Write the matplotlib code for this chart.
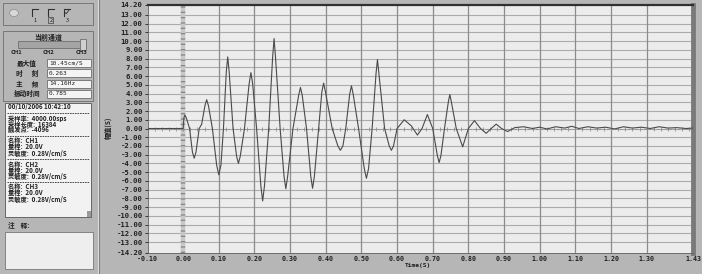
import numpy as np
import matplotlib
matplotlib.use("Agg")
import matplotlib.pyplot as plt
from matplotlib.patches import Rectangle, Ellipse

plt.rcParams["font.family"] = ["Noto Sans CJK SC", "DejaVu Sans"]

# waveform: time (s), amplitude
t_vals = [-0.10, 0.000, 0.002, 0.005, 0.009, 0.018, 0.026, 0.031, 0.036, 0.045,
          0.052, 0.061, 0.066, 0.071, 0.082, 0.094, 0.100, 0.106, 0.113, 0.121,
          0.125, 0.129, 0.140, 0.150, 0.155, 0.160, 0.172, 0.185, 0.190, 0.195,
          0.206, 0.218, 0.223, 0.228, 0.240, 0.251, 0.255, 0.259, 0.272, 0.283,
          0.288, 0.293, 0.308, 0.324, 0.329, 0.334, 0.346, 0.358, 0.363, 0.368,
          0.380, 0.389, 0.394, 0.399, 0.418, 0.434, 0.441, 0.448, 0.456, 0.467,
          0.472, 0.477, 0.492, 0.508, 0.514, 0.520, 0.530, 0.541, 0.545, 0.549,
          0.565, 0.578, 0.584, 0.590, 0.600, 0.620, 0.640, 0.657, 0.670, 0.685,
          0.700, 0.713, 0.718, 0.723, 0.733, 0.744, 0.748, 0.752, 0.766, 0.784,
          0.800, 0.817, 0.834, 0.850, 0.864, 0.878, 0.893, 0.910, 0.930, 0.955,
          0.980, 1.000, 1.020, 1.045, 1.070, 1.090, 1.110, 1.135, 1.160, 1.185,
          1.210, 1.235, 1.260, 1.285, 1.310, 1.335, 1.360, 1.385, 1.410, 1.430]
v_vals = [0.0, 0.0, 1.2, 1.55, 1.2, 0.0, -2.7, -3.4, -2.7, 0.0,
          0.5, 2.6, 3.3, 2.6, 0.0, -4.2, -5.3, -4.2, 0.0, 6.5,
          8.2, 6.5, 0.0, -3.2, -4.0, -3.2, 0.0, 5.1, 6.4, 5.1,
          0.0, -6.6, -8.3, -6.6, 0.0, 8.2, 10.3, 8.2, 0.0, -5.5,
          -6.9, -5.5, 0.0, 3.8, 4.7, 3.8, 0.0, -5.5, -6.85, -5.5,
          0.0, 4.2, 5.2, 4.2, 0.0, -2.0, -2.5, -2.0, 0.0, 3.9,
          4.9, 3.9, 0.0, -4.6, -5.7, -4.6, 0.0, 6.3, 7.9, 6.3,
          0.0, -2.0, -2.5, -2.0, 0.0, 1.0, 0.3, -0.75, 0.0, 1.6,
          0.0, -3.1, -3.9, -3.1, 0.0, 3.1, 3.9, 3.1, 0.0, -2.1,
          0.0, 0.9, 0.0, -0.55, 0.0, 0.5, 0.0, -0.35, 0.1, 0.2,
          0.0, 0.15, -0.05, 0.2, 0.05, 0.25, 0.0, 0.2, 0.05, 0.15,
          -0.05, 0.2, 0.05, 0.15, 0.0, 0.2, 0.05, 0.1, 0.0, 0.05]

y_ticks = [-14.20] + list(range(-13, 14)) + [14.20]
x_ticks = [-0.10, 0.00, 0.10, 0.20, 0.30, 0.40, 0.50, 0.60, 0.70, 0.80,
           0.90, 1.00, 1.10, 1.20, 1.30, 1.43]

info_lines = ["00/10/2006 10:42:10", None,
              "采样率:  4000.00sps", "采样长度:  16384", "触发点:  -4096", None,
              "名称:  CH1", "量程:  20.0V", "灵敏度:  0.28V/cm/S", None,
              "名称:  CH2", "量程:  20.0V", "灵敏度:  0.28V/cm/S", None,
              "名称:  CH3", "量程:  20.0V", "灵敏度:  0.28V/cm/S"]
stat_labels = ["最大值", "时      刻", "主      频", "振动时间"]
stat_values = ["10.45cm/S", "0.263", "14.16Hz", "0.785"]

W, H = 702, 274
BG = "#b6b6b6"
fig = plt.figure(figsize=(W / 100, H / 100), dpi=100, facecolor=BG)


def fx(x):
    return x / W


def fy(y):
    return 1 - y / H


def box(x0, y0, x1, y1, fc, ec="#6e6e6e", lw=0.6):
    fig.patches.append(Rectangle((fx(x0), fy(y1)), (x1 - x0) / W, (y1 - y0) / H,
                                 transform=fig.transFigure, fc=fc, ec=ec, lw=lw))


def txt(x, y, s, size=4.6, ha="left", **kw):
    fig.text(fx(x), fy(y), s, fontsize=size, ha=ha, va="center", color="#202020", **kw)


# ---- left panel ----
fig.add_artist(plt.Line2D([fx(97.5), fx(97.5)], [0, 1], color="#e0e0e0", lw=0.8))
fig.add_artist(plt.Line2D([fx(99.5), fx(99.5)], [0, 1], color="#808080", lw=0.8))

box(3, 3, 93, 25, BG)
fig.patches.append(Ellipse((fx(14), fy(13)), 9 / W, 7 / H, transform=fig.transFigure,
                           fc="#d8d8d8", ec="#8a8a8a", lw=0.5))
for i, cx in enumerate([32, 48, 64]):
    fig.add_artist(plt.Line2D([fx(cx), fx(cx), fx(cx + 6)], [fy(16), fy(9), fy(9)],
                              color="#303030", lw=0.8))
    txt(cx + 3, 20, str(i + 1), size=4, ha="center")
txt(67, 12, "✓", size=6, ha="center", family=["DejaVu Sans"])
box(47.5, 17.5, 52.5, 22.5, "none", ec="#404040", lw=0.5)

box(3, 31, 93, 101, BG)
txt(48, 37, "当前通道", size=5, ha="center", fontweight="bold")
box(18, 41, 86, 48, "#a4a4a4", ec="#707070")
box(80, 39, 86, 50, "#d0d0d0", ec="#707070")
for i, cx in enumerate([16, 48, 82]):
    txt(cx, 53, "CH%d" % (i + 1), size=4.2, ha="center", fontweight="bold")
for i, (lab, val) in enumerate(zip(stat_labels, stat_values)):
    yc = 63 + i * 10.3
    txt(27, yc, lab, size=4.8, ha="center", fontweight="bold")
    box(47, yc - 4, 91, yc + 4, "#f4f4f4")
    txt(49, yc, val, size=4.4, family=["DejaVu Sans Mono"])

box(5, 103, 91, 217, "#f2f2f2", ec="#555555")
yc = 107
for line in info_lines:
    if line is None:
        fig.add_artist(plt.Line2D([fx(7), fx(89)], [fy(yc - 0.5), fy(yc - 0.5)],
                                  color="#303030", lw=0.6, ls=(0, (2, 1))))
        yc += 5
    else:
        txt(8, yc, line, size=4.5, fontweight="bold")
        yc += 6.0
box(87, 211, 91, 217, "#9a9a9a", ec="none")
txt(8, 225, "注    释:", size=4.8, fontweight="bold")
box(5, 232, 93, 269, "#eeeeee", ec="#777777")

# ---- waveform plot ----
ax = fig.add_axes([fx(147.5), fy(252.5), (693 - 147.5) / W, (252.5 - 4.5) / H])
ax.set_facecolor("#ececec")
ax.set_xlim(-0.10, 1.43)
ax.set_ylim(-14.2, 14.2)

for yv in range(-13, 14):
    ax.axhline(yv, color="#ababab", lw=0.8, zorder=1)
for xv in x_ticks[1:-1]:
    ax.axvline(xv, color="#8c8c8c", lw=0.9, zorder=1)
ax.axvline(0.0, color="#c8c8c8", lw=3.2, zorder=1.5)
ax.axvline(0.0, color="#888888", lw=3.2, ls=(0, (0.3, 0.9)), zorder=1.6)
ax.axhline(0.0, color="#909090", lw=0.6, ls=(0, (3, 2)), zorder=2)
zero_marks = np.arange(-0.08, 1.43, 0.02)
ax.plot(zero_marks, np.zeros(len(zero_marks)), "|", color="#909090", ms=3, mew=0.6,
        zorder=2)

ax.plot(t_vals, v_vals, color="#4a4a4a", lw=0.8, zorder=3)

ax.set_yticks(y_ticks)
ax.set_yticklabels(["%.2f" % v for v in y_ticks])
ax.set_xticks(x_ticks)
ax.set_xticklabels(["%.2f" % v for v in x_ticks])
for lab in ax.get_yticklabels() + ax.get_xticklabels():
    lab.set_family(["DejaVu Sans Mono"])
    lab.set_fontweight("bold")
    lab.set_color("#202020")
ax.tick_params(axis="y", labelsize=5.2, length=2.5, width=0.6, pad=1, colors="#202020")
ax.tick_params(axis="x", labelsize=4.8, length=0, pad=2.5, colors="#202020")

for side in ["left", "bottom"]:
    ax.spines[side].set_color("#606060")
    ax.spines[side].set_linewidth(0.6)
ax.spines["top"].set_color("#303030")
ax.spines["top"].set_linewidth(1.6)
ax.spines["right"].set_color("#7a7a7a")
ax.spines["right"].set_linewidth(3.5)

fig.text(fx(418), fy(266), "Time(S)", fontsize=4.5, ha="center", va="center",
         family=["DejaVu Sans Mono"], fontweight="bold", color="#202020")
fig.text(fx(108), fy(128), "幅值(S)", fontsize=4.8, ha="center", va="center",
         rotation=90, fontweight="bold", color="#202020")

fig.savefig("out.png", dpi=100, facecolor=BG)
